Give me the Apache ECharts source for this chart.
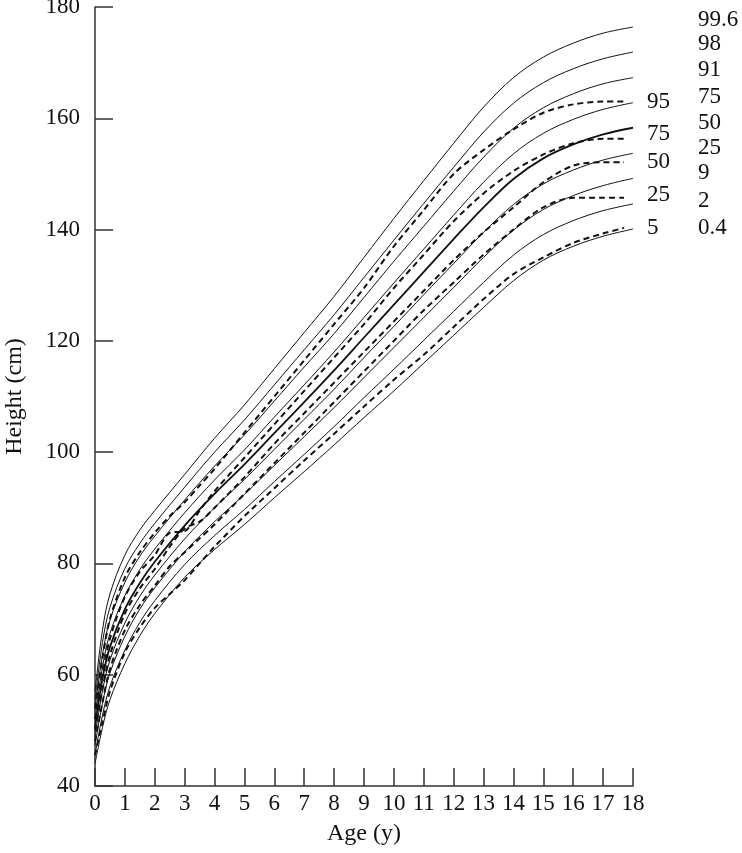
<!DOCTYPE html>
<html>
<head>
<meta charset="utf-8">
<script src="https://cdn.jsdelivr.net/npm/echarts@6/dist/echarts.min.js"></script>
<style>
  html, body { margin: 0; padding: 0; background: #fff; }
  #chart { width: 742px; height: 853px; }
</style>
</head>
<body>
<div id="chart"></div>
<script>
// reference centiles (solid lines)
const ages = [0, 0.25, 0.5, 1, 1.5, 2, 3, 4, 5, 6, 7, 8, 9, 10, 11, 12, 13, 14, 15, 16, 17, 18];
const p0_4 = [44, 50.5, 55.5, 62, 67, 71, 77.5, 82.5, 87, 91.8, 96.5, 101.3, 106.2, 111, 116, 121, 126, 130.8, 134.5, 137, 138.8, 140.1];
const p2 = [45.6, 52.7, 57.9, 64.4, 69.4, 73.3, 79.8, 85, 89.7, 94.7, 99.6, 104.6, 109.8, 114.9, 120.1, 125.3, 130.5, 135.4, 139.1, 141.6, 143.4, 144.6];
const p9 = [47.3, 54.9, 60.3, 66.9, 71.8, 75.6, 82.1, 87.5, 92.4, 97.6, 102.8, 108, 113.4, 118.8, 124.2, 129.6, 135, 139.9, 143.6, 146.1, 147.9, 149.2];
const p25 = [48.9, 57.1, 62.6, 69.3, 74.1, 77.9, 84.4, 90, 95.1, 100.5, 105.9, 111.3, 117, 122.6, 128.3, 133.9, 139.5, 144.5, 148.2, 150.7, 152.5, 153.7];
const p50 = [50.5, 59.3, 65, 71.8, 76.5, 80.3, 86.8, 92.5, 97.8, 103.4, 109, 114.7, 120.6, 126.5, 132.4, 138.3, 144, 149.1, 152.8, 155.3, 157.1, 158.3];
const p75 = [52.1, 61.4, 67.4, 74.2, 78.9, 82.6, 89.1, 95, 100.4, 106.3, 112.1, 118, 124.2, 130.4, 136.5, 142.6, 148.5, 153.6, 157.3, 159.8, 161.6, 162.8];
const p91 = [53.8, 63.6, 69.8, 76.6, 81.3, 84.9, 91.4, 97.5, 103.1, 109.2, 115.3, 121.3, 127.8, 134.3, 140.6, 146.9, 153, 158.2, 161.9, 164.4, 166.2, 167.3];
const p98 = [55.4, 65.8, 72.1, 79.1, 83.6, 87.2, 93.7, 100, 105.8, 112.1, 118.4, 124.7, 131.4, 138.1, 144.7, 151.2, 157.5, 162.7, 166.4, 168.9, 170.7, 171.9];
const p99_6 = [57, 68, 74.5, 81.5, 86, 89.5, 96, 102.5, 108.5, 115, 121.5, 128, 135, 142, 148.8, 155.5, 162, 167.3, 171, 173.5, 175.3, 176.4];

// study centiles (dashed lines)
const dashAges = [0, 0.25, 0.5, 1, 1.5, 2, 2.5, 3, 3.5, 4, 5, 6, 7, 8, 9, 10, 11, 12, 13, 14, 15, 16, 17, 17.7];
const d5 = [45.5, 51.5, 57, 64, 68.5, 72, 74.5, 77, 80, 83, 88.5, 93.5, 98.5, 103.3, 108.2, 113, 117.5, 122.5, 127.5, 132, 135, 137.6, 139.3, 140.3];
const d25 = [48, 55, 61, 68, 72.5, 76, 79.5, 82, 84.5, 87, 92.5, 98, 103.5, 109, 114.5, 120, 125.5, 130.5, 135.5, 140, 144, 145.7, 145.7, 145.7];
const d50 = [50, 57.5, 63.5, 71, 75.5, 79, 83, 86.3, 87.5, 90, 95.5, 101.5, 107, 112.5, 118, 123.5, 129, 134.5, 139.5, 144, 148.5, 151.5, 152.1, 152.1];
const d75 = [52, 60, 66.5, 74, 78.5, 81.5, 85.5, 85.8, 89.5, 93, 99, 105, 111, 117, 123, 129.5, 135.5, 141.5, 146.5, 150.5, 153.5, 155.5, 156.3, 156.3];
const d95 = [54, 63, 70, 77.5, 82, 85.5, 88.5, 91, 94, 97, 103.5, 110, 116.5, 123, 129.5, 137, 143.5, 150, 154.3, 158, 161, 162.5, 163, 163];

const xTicks = [0, 18, 1];   // min, max, interval
const yTicks = [40, 180, 20];

const solid = [
    ['0.4', p0_4, -1], ['2', p2, -3], ['9', p9, -5], ['25', p25, -5], ['50', p50, -5],
    ['75', p75, -6], ['91', p91, -8], ['98', p98, -8], ['99.6', p99_6, -7],
];
const dashed = [
    ['5', d5, 0], ['25', d25, -3], ['50', d50, 0], ['75', d75, -5], ['95', d95, 0],
];

const font = 'Liberation Serif';
const fs = 23;
const series = [];
solid.forEach(([name, vals, dy]) => {
    series.push({
        name: 'solid ' + name,
        type: 'line',
        data: ages.map((a, i) => [a, vals[i]]),
        showSymbol: false,
        smooth: 0.35,
        lineStyle: { color: '#111', width: name === '50' ? 1.8 : 1, type: 'solid' },
        endLabel: {
            show: true,
            formatter: name,
            distance: 65,
            offset: [0, dy],
            color: '#111',
            fontFamily: font,
            fontSize: fs,
        },
        silent: true,
    });
});
dashed.forEach(([name, vals, dy]) => {
    series.push({
        name: 'dashed ' + name,
        type: 'line',
        data: dashAges.map((a, i) => [a, vals[i]]),
        showSymbol: false,
        smooth: 0.3,
        lineStyle: { color: '#111', width: 2, type: [6, 4] },
        endLabel: {
            show: true,
            formatter: name,
            distance: 23,
            offset: [0, dy],
            color: '#111',
            fontFamily: font,
            fontSize: fs,
        },
        silent: true,
    });
});

const chart = echarts.init(document.getElementById('chart'), null, { renderer: 'canvas' });
chart.setOption({
    animation: false,
    backgroundColor: '#fff',
    grid: { left: 95, right: 109, top: 7, bottom: 67, containLabel: false, outerBoundsMode: 'none' },
    xAxis: {
        type: 'value',
        min: xTicks[0],
        max: xTicks[1],
        interval: xTicks[2],
        name: 'Age (y)',
        nameLocation: 'middle',
        nameGap: 36,
        nameTextStyle: { fontFamily: font, fontSize: 24, color: '#111' },
        axisLine: { show: true, lineStyle: { color: '#333', width: 1.5 } },
        axisTick: { show: true, inside: true, length: 18, lineStyle: { color: '#333', width: 1.5 } },
        axisLabel: { fontFamily: font, fontSize: fs, color: '#111', margin: 6 },
        splitLine: { show: false },
    },
    yAxis: {
        type: 'value',
        min: yTicks[0],
        max: yTicks[1],
        interval: yTicks[2],
        name: 'Height (cm)',
        nameLocation: 'middle',
        nameGap: 68,
        nameTextStyle: { fontFamily: font, fontSize: 24, color: '#111' },
        axisLine: { show: true, lineStyle: { color: '#333', width: 1.5 } },
        axisTick: { show: true, inside: true, length: 18, lineStyle: { color: '#333', width: 1.5 } },
        axisLabel: { fontFamily: font, fontSize: fs, color: '#111', margin: 15 },
        splitLine: { show: false },
    },
    series: series,
});
</script>
</body>
</html>
